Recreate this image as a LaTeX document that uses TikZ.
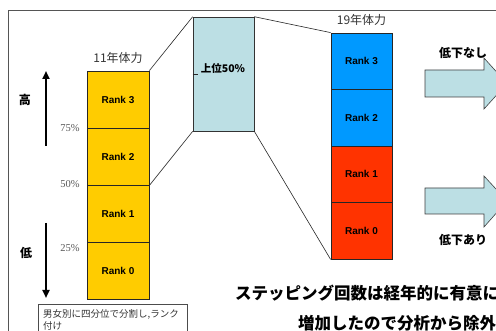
\documentclass[tikz,border=0pt]{standalone}
\usepackage{fontspec}
\setmainfont{Liberation Sans}
\newfontfamily\jp{Noto Sans CJK JP}
\newfontfamily\serifp{Liberation Serif}
\usetikzlibrary{arrows.meta}
\definecolor{ryellow}{HTML}{FFCC00}
\definecolor{rblue}{HTML}{0099FF}
\definecolor{rred}{HTML}{FF3300}
\definecolor{lblue}{HTML}{BCDFE4}
\definecolor{framegray}{HTML}{555555}
\begin{document}
\begin{tikzpicture}[x=1pt,y=-1pt,
  rankbox/.style={draw=black!85, line width=0.8pt, minimum width=62pt, minimum height=57pt, inner sep=0pt, font=\bfseries\fontsize{10}{12}\selectfont},
  rankboxb/.style={rankbox, minimum width=61pt, minimum height=56.5pt},
  pct/.style={font=\serifp\fontsize{10.5}{12}\selectfont, text=black!65},
  title/.style={font=\jp\fontsize{12}{14}\selectfont, text=black!80},
  jpbold/.style={font=\jp\bfseries\fontsize{12}{14}\selectfont},
  bigtext/.style={font=\jp\bfseries\fontsize{16.5}{18}\selectfont, anchor=west, inner sep=0pt},
  thickarrow/.style={line width=2pt, -{Triangle[length=8pt,width=7pt]}},
  blockarrow/.style={draw=black!75, fill=lblue, line width=0.6pt},
  link/.style={draw=black!85, line width=0.6pt}]
\useasboundingbox (0,0) rectangle (496,331);
\clip (0,0) rectangle (496,331);
\fill[white] (0,0) rectangle (496,331);
% frame
\draw[framegray, line width=0.8pt] (8,345) -- (8,10) -- (510,10);

% 11 year column
\node[title] (t11) at (118,58) {11年体力};
\node[rankbox, fill=ryellow] (y3) at (118,99.5) {Rank 3};
\node[rankbox, fill=ryellow] (y2) at (118,156.5) {Rank 2};
\node[rankbox, fill=ryellow] (y1) at (118,213.5) {Rank 1};
\node[rankbox, fill=ryellow] (y0) at (118,270.5) {Rank 0};

% percent labels
\node[pct] (p75) at (70,128) {75\%};
\node[pct] (p50) at (70,184) {50\%};
\node[pct] (p25) at (70,248) {25\%};

% high / low arrows
\coordinate (upS) at (46,146);
\coordinate (upE) at (46,71);
\coordinate (dnS) at (46,223);
\coordinate (dnE) at (46,298);
\draw[thickarrow] (upS) -- (upE);
\draw[thickarrow] (dnS) -- (dnE);
\node[jpbold] (hi) at (25,100) {高};
\node[jpbold] (lo) at (26,253) {低};

% note box
\node[draw=black!70, line width=0.6pt, anchor=north west, minimum width=149pt, minimum height=40pt, inner sep=0pt] (note) at (38,304) {};
\node[anchor=north west, inner sep=0pt, align=left, font=\jp\fontsize{9.5}{12}\selectfont, text=black!80] (notetext) at (43,309) {男女別に四分位で分割し,ランク\\付け};

% upper 50% box
\node[draw=black!80, line width=0.6pt, fill=lblue, minimum width=61pt, minimum height=114pt, inner sep=0pt] (lb) at (223.5,74) {};
\node[font=\jp\bfseries\fontsize{10.5}{12}\selectfont] (lbt) at (223,69) {上位50\%};
\draw[link] (lb.west) -- ++(5,0);

% 19 year column
\node[title] (t19) at (361.5,20) {19年体力};
\node[rankboxb, fill=rblue] (b3) at (361.5,61.25) {Rank 3};
\node[rankboxb, fill=rblue] (b2) at (361.5,117.75) {Rank 2};
\node[rankboxb, fill=rred] (r1) at (361.5,174.25) {Rank 1};
\node[rankboxb, fill=rred] (r0) at (361.5,230.75) {Rank 0};

% connecting lines
\draw[link] (y3.north east) -- (lb.north west);
\draw[link] (y2.south east) -- (lb.south west);
\draw[link] (lb.north east) -- (b3.north west);
\draw[link] (lb.south east) -- (r0.south west);

% block arrows
\draw[blockarrow] (425,70) -- (484,70) -- (484,58) -- (507,83.5) -- (484,109) -- (484,97) -- (425,97) -- cycle;
\draw[blockarrow] (425,188) -- (484,188) -- (484,176) -- (507,201) -- (484,227) -- (484,214) -- (425,214) -- cycle;
\node[jpbold] (nodrop) at (463,53) {低下なし};
\node[jpbold] (drop) at (463,240) {低下あり};

% bottom text
\node[bigtext] (bt1) at (235,293) {ステッピング回数は経年的に有意に};
\node[bigtext] (bt2) at (298,323) {増加したので分析から除外};
\end{tikzpicture}
\end{document}
